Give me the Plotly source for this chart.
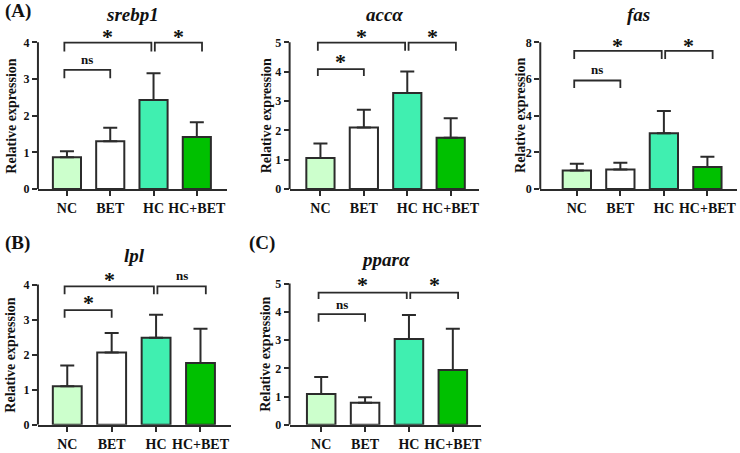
import plotly.graph_objects as go

W, H = 740, 453

# ---------------- data ----------------
categories = ["NC", "BET", "HC", "HC+BET"]
bar_colors = ["#CCFFCC", "#FFFFFF", "#40EFB0", "#00C000"]

gene_titles = ["srebp1", "accα", "fas", "lpl", "pparα"]
panel_letters = {0: "(A)", 3: "(B)", 4: "(C)"}

srebp1_mean = [0.87, 1.30, 2.43, 1.42]
srebp1_sd = [0.16, 0.37, 0.73, 0.40]
acca_mean = [1.06, 2.10, 3.27, 1.75]
acca_sd = [0.49, 0.60, 0.74, 0.66]
fas_mean = [1.01, 1.06, 3.04, 1.20]
fas_sd = [0.37, 0.38, 1.22, 0.56]
lpl_mean = [1.10, 2.06, 2.48, 1.76]
lpl_sd = [0.59, 0.56, 0.66, 0.98]
ppara_mean = [1.09, 0.78, 3.04, 1.94]
ppara_sd = [0.60, 0.20, 0.85, 1.46]

means = [srebp1_mean, acca_mean, fas_mean, lpl_mean, ppara_mean]
sds = [srebp1_sd, acca_sd, fas_sd, lpl_sd, ppara_sd]

tick_max = [4, 5, 8, 4, 5]
tick_step = [1, 1, 2, 1, 1]

# significance brackets: (label, from_idx, to_idx, bracket_level, leg_level, label_level)
srebp1_sig = [("*", -0.06, 1.95, 3.99, 3.75, 4.26), ("*", 2.03, 3.12, 3.99, 3.75, 4.26),
              ("ns", -0.06, 1.0, 3.25, 3.02, 3.52)]
acca_sig = [("*", -0.06, 1.95, 4.99, 4.71, 5.33), ("*", 2.03, 3.12, 4.99, 4.71, 5.33),
            ("*", -0.06, 1.0, 4.09, 3.85, 4.48)]
fas_sig = [("*", -0.06, 1.95, 7.53, 7.09, 8.07), ("*", 2.03, 3.12, 7.53, 7.09, 8.07),
           ("ns", -0.06, 1.0, 5.92, 5.51, 6.50)]
lpl_sig = [("*", -0.06, 1.95, 3.95, 3.72, 4.25), ("ns", 2.03, 3.12, 3.95, 3.72, 4.27),
           ("*", -0.06, 1.0, 3.27, 3.05, 3.60)]
ppara_sig = [("*", -0.06, 1.95, 4.68, 4.45, 5.12), ("*", 2.03, 3.12, 4.68, 4.45, 5.12),
             ("ns", -0.06, 1.0, 3.92, 3.65, 4.26)]
sigs = [srebp1_sig, acca_sig, fas_sig, lpl_sig, ppara_sig]

# axis_x, axis_end_x, y_zero_px, y_tickmax_px, plot_top_px, x_range_left, x_range_right, ytitle_offset
geom = [
    (38, 227, 192, 43, 20, -0.67, 3.69, 26),
    (290, 480, 192, 43, 20, -0.71, 3.66, 23),
    (541, 738, 192, 43, 20, -0.84, 3.68, 20),
    (38, 231, 431.5, 289, 268, -0.66, 3.68, 27),
    (290, 482, 431.5, 288, 268, -0.72, 3.65, 24),
]
title_y_px = [15, 15, 15, 260, 264]
letter_pos = {0: (3, 11), 3: (3, 247), 4: (247, 247)}

FONT = "Liberation Serif"
INK = "#2b2b2b"

def px_x(x):
    return x / W

def px_y(y):
    return 1 - y / H

fig = go.Figure()
shapes = []
annotations = []

for i in range(5):
    ax_x, end_x, y0, ytm, top, xl, xr, toff = geom[i]
    rmax = tick_max[i] * (y0 - top) / (y0 - ytm)
    xa = "x" if i == 0 else f"x{i+1}"
    ya = "y" if i == 0 else f"y{i+1}"
    xkey = "xaxis" if i == 0 else f"xaxis{i+1}"
    ykey = "yaxis" if i == 0 else f"yaxis{i+1}"

    fig.add_trace(go.Bar(
        x=categories, y=means[i], xaxis=xa, yaxis=ya,
        marker=dict(color=bar_colors, line=dict(color=INK, width=2)),
        width=0.65,
        error_y=dict(type="data", array=sds[i], arrayminus=[0] * 4, symmetric=False,
                     color=INK, thickness=2, width=7),
        showlegend=False, hoverinfo="skip",
    ))

    fig.update_layout({
        xkey: dict(domain=[px_x(ax_x), px_x(end_x)], anchor=ya,
                   range=[xl, xr], type="category",
                   showline=True, linecolor=INK, linewidth=2,
                   ticks="outside", ticklen=5, tickwidth=2, tickcolor=INK,
                   ticklabelstandoff=0,
                   showgrid=False, zeroline=False,
                   tickfont=dict(family=FONT, size=14, color="#111", weight="bold")),
        ykey: dict(domain=[px_y(y0), px_y(top)], anchor=xa,
                   range=[0, rmax],
                   tickvals=list(range(0, tick_max[i] + 1, tick_step[i])),
                   showline=False, ticks="outside", ticklen=5, tickwidth=2, tickcolor=INK,
                   showgrid=False, zeroline=False,
                   tickfont=dict(family=FONT, size=12, color="#111", weight="bold")),
    })

    shapes.append(dict(type="line", xref=f"{xa} domain", yref=ya, x0=0, x1=0,
                       y0=0, y1=tick_max[i], line=dict(color=INK, width=2)))

    for lab, a, b, lvl, leg, ly in sigs[i]:
        shapes.append(dict(type="path", xref=xa, yref=ya,
                           path=f"M {a},{leg} L {a},{lvl} L {b},{lvl} L {b},{leg}",
                           line=dict(color=INK, width=1.8)))
        if lab == "*":
            annotations.append(dict(text="*", xref=xa, yref=ya, x=(a + b) / 2, y=ly,
                                    showarrow=False, yanchor="middle", yshift=-4,
                                    font=dict(family=FONT, size=22, color="#111", weight="bold")))
        else:
            annotations.append(dict(text="ns", xref=xa, yref=ya, x=(a + b) / 2, y=ly,
                                    showarrow=False, yanchor="middle",
                                    font=dict(family=FONT, size=13, color="#111", weight="bold")))

    annotations.append(dict(text="Relative expression", xref="paper", yref="paper",
                            x=px_x(ax_x - toff), y=px_y((y0 + ytm) / 2), textangle=-90,
                            showarrow=False, xanchor="center", yanchor="middle",
                            font=dict(family=FONT, size=14, color="#111", weight="bold")))
    annotations.append(dict(text=gene_titles[i], xref="paper", yref="paper",
                            x=px_x((ax_x + end_x) / 2), y=px_y(title_y_px[i]),
                            showarrow=False, xanchor="center", yanchor="middle",
                            font=dict(family=FONT, size=19, color="#111", weight="bold",
                                      style="italic")))
    if i in panel_letters:
        lx, lyp = letter_pos[i]
        annotations.append(dict(text=panel_letters[i], xref="paper", yref="paper",
                                x=px_x(lx), y=px_y(lyp), showarrow=False,
                                xanchor="left", yanchor="middle",
                                font=dict(family=FONT, size=19, color="#111", weight="bold")))

fig.update_layout(width=W, height=H, margin=dict(l=0, r=0, t=0, b=0),
                  paper_bgcolor="white", plot_bgcolor="white",
                  shapes=shapes, annotations=annotations, bargap=0.35)

post = ("document.documentElement.style.margin='0';document.documentElement.style.padding='0';"
        "document.documentElement.style.overflow='hidden';"
        "document.body.style.margin='0';document.body.style.padding='0';"
        "document.body.style.overflow='hidden';")
fig.write_html("out.html", config={"displayModeBar": False}, post_script=post)
